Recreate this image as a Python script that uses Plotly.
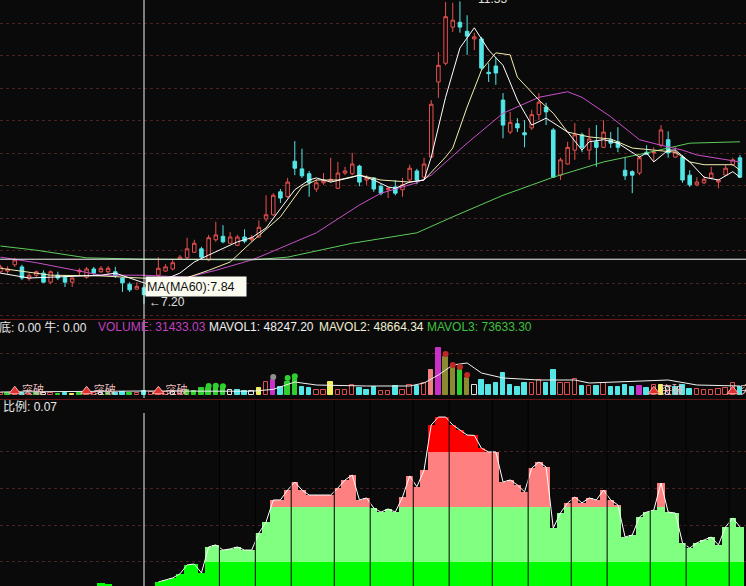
import plotly.graph_objects as go

# ---------------- price candles (index 0..103) ----------------
opens = [7.66,7.67,7.76,7.73,7.56,7.61,7.64,7.51,7.61,7.58,7.51,7.66,7.58,7.70,7.66,7.66,7.66,7.57,7.48,7.41,
         7.43,7.43,7.61,7.67,7.70,7.84,7.86,7.94,7.99,7.83,8.12,8.17,8.07,8.04,8.16,8.12,8.16,8.42,8.48,8.81,
         8.74,9.25,9.14,9.07,8.85,8.94,8.97,8.86,9.08,9.07,9.18,8.98,9.01,8.89,8.84,8.88,8.84,8.98,9.11,9.02,
         9.31,10.39,10.66,11.18,11.25,11.12,11.01,11.01,10.53,10.62,10.13,9.67,9.79,9.66,9.73,9.92,10.03,9.70,9.05,9.21,
         9.41,9.63,9.41,9.53,9.45,9.56,9.53,9.12,9.10,9.08,9.38,9.37,9.48,9.56,9.31,9.31,9.05,8.91,8.94,9.01,
         8.95,9.05,9.20,9.30]
highs = [7.76,7.74,7.86,7.76,7.64,7.68,7.68,7.68,7.66,7.61,7.58,7.71,7.73,7.73,7.74,7.74,7.73,7.58,7.51,7.51,
         7.47,7.57,7.87,7.77,7.83,7.90,8.15,8.12,8.02,8.19,8.38,8.33,8.23,8.19,8.27,8.19,8.40,8.76,8.79,8.85,
         9.01,9.54,9.43,9.11,8.99,9.08,9.30,9.24,9.17,9.37,9.20,9.05,9.02,8.92,8.88,8.98,9.01,9.20,9.14,9.30,
         10.13,10.82,11.54,11.53,11.55,11.35,11.10,11.04,10.66,10.74,10.23,9.96,9.87,9.84,9.99,10.23,10.09,9.73,9.30,9.53,
         9.80,9.66,9.73,9.77,9.84,9.67,9.74,9.31,9.12,9.33,9.48,9.45,9.77,9.68,9.45,9.34,9.12,9.02,9.04,9.17,
         8.99,9.20,9.30,9.34]
lows = [7.63,7.63,7.73,7.54,7.53,7.58,7.50,7.48,7.54,7.44,7.44,7.61,7.56,7.61,7.64,7.63,7.57,7.37,7.37,7.40,
        7.20,7.37,7.58,7.66,7.68,7.83,7.83,7.93,7.83,7.81,8.09,8.07,8.06,8.03,8.07,8.09,8.15,8.38,8.46,8.65,
        8.72,9.05,9.01,8.74,8.81,8.91,8.94,8.85,9.05,9.05,8.89,8.91,8.81,8.76,8.72,8.76,8.74,8.94,8.92,9.01,
        9.30,10.16,10.63,11.11,11.10,10.78,10.85,10.56,10.39,10.35,9.58,9.64,9.67,9.45,9.70,9.84,9.77,9.01,8.98,9.20,
        9.27,9.38,9.27,9.17,9.44,9.44,9.38,8.98,8.79,9.05,9.34,9.24,9.45,9.30,9.30,8.94,8.88,8.89,8.92,8.99,
        8.86,9.04,9.18,9.01]
closes = [7.73,7.70,7.83,7.57,7.61,7.66,7.51,7.66,7.57,7.51,7.57,7.68,7.70,7.64,7.71,7.71,7.60,7.50,7.40,7.45,
          7.33,7.51,7.71,7.73,7.79,7.87,7.99,8.07,7.87,8.15,8.19,8.09,8.16,8.16,8.10,8.15,8.30,8.48,8.76,8.72,
          8.95,9.15,9.04,8.94,8.94,8.97,8.99,9.08,9.11,9.21,8.95,9.01,8.85,8.79,8.86,8.79,8.91,9.15,8.98,9.21,
          10.07,10.63,11.33,11.28,11.18,11.05,11.04,10.59,10.51,10.52,9.77,9.81,9.73,9.63,9.92,10.10,9.96,9.02,9.27,9.45,
          9.63,9.45,9.57,9.45,9.67,9.51,9.45,9.04,9.05,9.30,9.35,9.38,9.70,9.37,9.38,8.98,8.91,8.95,8.99,9.08,
          8.98,9.15,9.27,9.02]
days = list(range(len(opens)))

# ---------------- moving averages ----------------
ma5_idx = [0,4,14,16,20,21,25,27,29,31,33,35,37,41,43,44,46,49,50,52,54,55,57,59,60,62,64,66,68,70,72,74,76,79,81,82,84,86,89,90,91,93,94,96,98,100,102,103]
ma5 = [7.64,7.57,7.61,7.64,7.50,7.47,7.64,7.80,7.90,8.00,8.09,8.15,8.29,8.84,8.98,9.01,8.95,9.02,9.05,8.98,8.88,8.86,8.95,8.98,9.31,10.17,10.88,11.17,10.85,10.63,10.13,9.77,9.87,9.67,9.41,9.53,9.56,9.51,9.31,9.37,9.24,9.41,9.41,9.24,9.02,8.98,9.10,9.02]
ma10_idx = [0,7,14,20,25,29,32,35,39,42,44,47,50,53,57,59,62,63,65,67,69,71,72,75,77,79,82,85,88,91,94,96,98,102,103]
ma10 = [7.71,7.61,7.60,7.57,7.54,7.68,7.80,8.09,8.45,8.88,8.98,8.98,9.05,8.98,8.95,8.98,9.31,9.44,10.03,10.56,10.81,10.78,10.46,10.13,9.94,9.67,9.60,9.57,9.44,9.41,9.38,9.24,9.20,9.20,9.12]
ma20_idx = [0,5,14,20,26,30,35,36,44,50,53,58,60,65,70,75,79,81,85,89,92,95,97,101,103]
ma20 = [7.87,7.79,7.61,7.61,7.58,7.68,7.83,7.87,8.22,8.62,8.79,8.94,9.05,9.51,9.94,10.17,10.25,10.17,9.89,9.56,9.48,9.41,9.34,9.27,9.24]
ma60_idx = [0,5,12,20,35,40,49,58,63,70,77,84,90,96,103]
ma60 = [8.03,7.97,7.86,7.84,7.83,7.87,8.07,8.22,8.45,8.76,9.02,9.24,9.37,9.51,9.53]

# ---------------- volume ----------------
volume = [16000,15000,22000,14000,12000,16000,14000,20000,11000,15000,12000,16000,24000,14000,18000,13000,16000,22000,20000,15000,
          31433,24000,30000,25000,22000,30000,40000,34000,56000,58000,60000,56000,40000,42000,32000,35000,58000,105000,120000,64000,
          104000,128000,62000,56000,40000,42000,104000,40000,38000,80000,56000,42000,66000,34000,32000,72000,42000,80000,70000,96000,
          200000,376000,304000,216000,200000,136000,80000,120000,82000,96000,178000,82000,66000,96000,96000,120000,96000,200000,96000,96000,
          128000,72000,72000,72000,96000,64000,64000,80000,64000,72000,56000,80000,80000,64000,64000,80000,48000,46000,40000,42000,
          46000,54000,96000,64000]
vol_style = list("rgrcrgwrgcygrrwgccgr" "crrrwrgggggg" "wccwyrmcgg" "ccrryrrrccc" "rrcrrcr" "pmoogowccccc" "ccrrcc" "rrrcrcrccccmcrywccc" "rrrrrrc")
mavol_idx = [0,20,35,38,41,44,51,57,59,61,63,65,66,67,70,75,80,82,93,97,103]
mavol = [24000,32000,30000,45000,104000,80000,72000,72000,96000,160000,240000,256000,216000,176000,136000,120000,120000,96000,120000,80000,72000]
dot_idx = [29,30,31,38,40,41,62,63,64,65]
dot_vol = [72000,74000,70000,144000,136000,150000,328000,240000,224000,160000]
dot_color = ["#30d030","#30d030","#30d030","#909090","#30d030","#30d030","#c02828","#c02828","#c02828","#c02828"]
breakout_idx = [2,12,22,91,102]

# ---------------- ratio indicator ----------------
ratio = [0.05,0.05,0.05,0.05,0.05,0.05,0.05,0.05,0.05,0.05,0.05,0.05,0.05,0.05,0.086,0.082,0.05,0.05,0.05,0.05,
         0.07,0.06,0.091,0.102,0.113,0.135,0.184,0.189,0.14,0.282,0.293,0.265,0.271,0.282,0.265,0.265,0.358,0.418,0.538,0.538,
         0.592,0.636,0.592,0.565,0.565,0.565,0.565,0.603,0.647,0.674,0.538,0.549,0.494,0.472,0.489,0.472,0.554,0.669,0.61,0.70,
         0.947,0.99,0.99,0.947,0.92,0.892,0.89,0.82,0.80,0.80,0.636,0.647,0.62,0.582,0.712,0.745,0.718,0.385,0.467,0.522,
         0.554,0.522,0.549,0.538,0.592,0.538,0.511,0.336,0.347,0.445,0.472,0.483,0.63,0.472,0.467,0.304,0.276,0.304,0.32,0.336,
         0.293,0.391,0.44,0.391]
band_levels = [0.2, 0.5, 0.8]
week_breaks = [30.5,35.5,40.5,46.5,51.5,57.5,62.5,68.5,73.5,79.5,84.5,90.5,95.5,101.5]

cross_idx = 20
cross_price = 7.84
low_label = 7.20
high_label = 11.55

BG = "#0a0a0a"
FONT = "Liberation Sans, Noto Sans CJK SC"
W, H = 746, 586

def py(p):  # pixel row -> paper y
    return 1 - p / H

fig = go.Figure()

# candles
fig.add_trace(go.Candlestick(
    x=days, open=opens, high=highs, low=lows, close=closes,
    increasing=dict(line=dict(color="#e85050", width=1), fillcolor=BG),
    decreasing=dict(line=dict(color="#54e6e6", width=1), fillcolor="#54e6e6"),
    whiskerwidth=0, xaxis="x", yaxis="y", hoverinfo="skip"))

for xi, yi, col in [(ma60_idx, ma60, "#5ccc5c"), (ma20_idx, ma20, "#c850c8"),
                    (ma10_idx, ma10, "#f2eeb0"), (ma5_idx, ma5, "#ffffff")]:
    fig.add_trace(go.Scatter(x=xi, y=yi, mode="lines", line=dict(color=col, width=1),
                             xaxis="x", yaxis="y", hoverinfo="skip"))

# volume
style_fill = {"c": "#54e6e6", "r": BG, "g": "#30d030", "m": "#c830c8", "y": "#f0f060",
              "o": "#8a8a30", "w": BG, "p": "#f08080"}
style_line = {"c": "#54e6e6", "r": "#e05050", "g": "#30d030", "m": "#c830c8", "y": "#f0f060",
              "o": "#8a8a30", "w": "#e0e0e0", "p": "#f08080"}
fig.add_trace(go.Bar(x=days, y=volume, width=0.62,
                     marker=dict(color=[style_fill[s] for s in vol_style],
                                 line=dict(color=[style_line[s] for s in vol_style], width=1)),
                     xaxis="x", yaxis="y2", hoverinfo="skip"))
fig.add_trace(go.Scatter(x=mavol_idx, y=mavol, mode="lines", line=dict(color="#f0f0f0", width=1),
                         xaxis="x", yaxis="y2", hoverinfo="skip"))
fig.add_trace(go.Scatter(x=dot_idx, y=dot_vol, mode="markers",
                         marker=dict(color=dot_color, size=6), xaxis="x", yaxis="y2", hoverinfo="skip"))
fig.add_trace(go.Scatter(x=breakout_idx, y=[30000] * len(breakout_idx), mode="markers+text",
                         marker=dict(symbol="triangle-up", color="#e03030", size=10,
                                     line=dict(color="#ffb0b0", width=1)),
                         text=["突破"] * len(breakout_idx), textposition="middle right",
                         textfont=dict(color="#f0c0c0", size=11, family=FONT),
                         xaxis="x", yaxis="y2", hoverinfo="skip"))

# ratio bands
r_red = ratio
r_pink = [min(v, band_levels[2]) for v in ratio]
r_lg = [min(v, band_levels[1]) for v in ratio]
r_g = [min(v, band_levels[0]) for v in ratio]
for vals, col in [(r_red, "#ff0000"), (r_pink, "#ff8080"), (r_lg, "#80ff80"), (r_g, "#00ff00")]:
    fig.add_trace(go.Bar(x=days, y=vals, width=1.0, marker=dict(color=col, line=dict(width=0)),
                         xaxis="x", yaxis="y3", hoverinfo="skip"))
fig.add_trace(go.Scatter(x=days[22:], y=ratio[22:], mode="lines",
                         line=dict(color="#ffffff", width=1), xaxis="x", yaxis="y3", hoverinfo="skip"))

shapes = []
for wb in week_breaks:
    shapes.append(dict(type="line", xref="x", yref="paper", x0=wb, x1=wb, y0=0, y1=py(400),
                       line=dict(color="#000000", width=1)))
# crosshair
shapes.append(dict(type="line", xref="x", yref="paper", x0=cross_idx, x1=cross_idx, y0=py(398), y1=1,
                   line=dict(color="#f0f0f0", width=1)))
shapes.append(dict(type="line", xref="x", yref="paper", x0=cross_idx, x1=cross_idx, y0=0, y1=py(413),
                   line=dict(color="#f0f0f0", width=1)))
shapes.append(dict(type="line", xref="paper", yref="y", x0=0, x1=1, y0=cross_price, y1=cross_price,
                   line=dict(color="#f0f0f0", width=1)))
# panel dividers
for p in (319.5, 399.5):
    shapes.append(dict(type="line", xref="paper", yref="paper", x0=0, x1=1, y0=py(p), y1=py(p),
                       line=dict(color="#6a1616", width=1)))

ann = []
def hdr(x_px, y_px, text, color):
    ann.append(dict(xref="paper", yref="paper", x=x_px / W, y=py(y_px), text=text, showarrow=False,
                    xanchor="left", yanchor="middle", font=dict(color=color, size=12, family=FONT)))
hdr(-3, 327, "底: 0.00 牛: 0.00", "#e8e8e8")
hdr(96, 327, "VOLUME: 31433.03", "#c040c0")
hdr(207, 327, "MAVOL1: 48247.20", "#f0f0f0")
hdr(317, 327, "MAVOL2: 48664.34", "#f0f0d0")
hdr(425, 327, "MAVOL3: 73633.30", "#40c040")
hdr(1, 407, "比例: 0.07", "#e8e8e8")

ann.append(dict(xref="x", yref="y", x=cross_idx, y=7.60, xanchor="left", yanchor="top", xshift=1,
                text="MA(MA60):7.84", showarrow=False, align="left", width=98, height=17,
                bgcolor="#fbfbef", borderpad=1, font=dict(color="#101010", size=12.5, family=FONT)))
ann.append(dict(xref="x", yref="y", x=cross_idx, y=low_label + 0.02, xanchor="left", yanchor="middle", xshift=3,
                text="←7.20", showarrow=False, font=dict(color="#e0e0e0", size=12, family=FONT)))
ann.append(dict(xref="x", yref="y", x=66.3, y=11.57, xanchor="left", yanchor="middle", yshift=1,
                text=f"{high_label:.2f}", showarrow=False, font=dict(color="#e0e0e0", size=12, family=FONT)))

grid = dict(showgrid=True, gridcolor="#4a2222", griddash="dot", gridwidth=1,
            showticklabels=False, ticks="", zeroline=False, showline=False)

fig.update_layout(
    width=W, height=H, margin=dict(l=0, r=0, t=0, b=0),
    paper_bgcolor=BG, plot_bgcolor=BG, showlegend=False,
    barmode="overlay", bargap=0,
    xaxis=dict(range=[-0.056, 103.84], visible=False, rangeslider=dict(visible=False), fixedrange=True),
    yaxis=dict(domain=[py(319), 1], range=[6.98, 11.57], tickmode="linear", tick0=11.235, dtick=0.4677, **grid),
    yaxis2=dict(domain=[py(398), py(320)], range=[-24000, 600000], tickmode="array", tickvals=[336000], **grid),
    yaxis3=dict(domain=[0, py(400)], range=[0.069, 1.083], tickmode="array", tickvals=[0.2, 0.4, 0.6, 0.8], **grid),
    shapes=shapes, annotations=ann,
)

fig.write_html("out.html", config={"displayModeBar": False},
               post_script="document.body.style.margin='0';document.body.style.overflow='hidden';"
                           "document.documentElement.style.background='#0a0a0a';")
